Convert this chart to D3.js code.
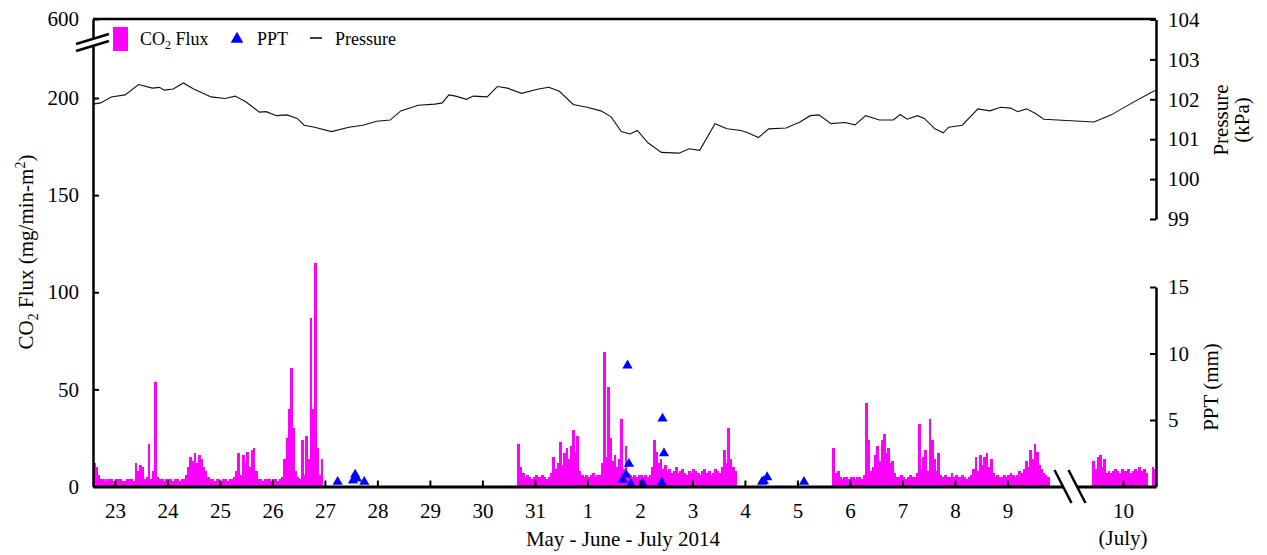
<!DOCTYPE html>
<html>
<head>
<meta charset="utf-8">
<script src="https://cdn.jsdelivr.net/npm/d3@7"></script>
<style>
body { margin: 0; background: #fff; }
svg text { font-family: "Liberation Serif", "Times New Roman", serif; fill: #000; }
</style>
</head>
<body>
<svg id="chart" width="1267" height="555"></svg>
<script>
// ---- data (times are 2014, "MM-DD HH:MM") ----
const dayTicks = ["05-23","05-24","05-25","05-26","05-27","05-28","05-29","05-30","05-31",
                  "06-01","06-02","06-03","06-04","06-05","06-06","06-07","06-08","06-09","07-10"]
const fluxTicks = [0, 50, 100, 150, 200, 600]
const pressTicks = [99, 100, 101, 102, 103, 104]
const pptTicks = [5, 10, 15]

// hourly CO2 flux, one array per measuring period
const fluxStart1 = "05-22 14:00"
const fluxSeg1 = [12,10,6,4,4,3,4,4,4,3,4,4,4,3,3,4,4,4,3,12,8,11,10,4,5,22,4,8,54,5,
                  4,4,3,4,4,4,3,4,4,3,4,4,6,10,15,13,17,12,16,14,10,8,5,4,4,3,4,4,3,4,
                  4,3,4,4,5,8,17,6,16,12,18,10,19,20,8,4,4,3,4,4,4,3,4,4,3,4,5,14,25,40,
                  61,30,8,5,4,24,6,26,14,87,40,115,20,6,14]
const fluxStart2 = "05-30 16:00"
const fluxSeg2 = [22,10,7,5,6,5,4,5,6,5,5,6,5,4,5,7,15,9,12,23,11,17,20,14,21,29,18,26,8,6,
                  5,6,5,6,7,5,6,6,12,69,15,51,25,13,16,10,14,35,9,21,7,6,5,6,5,6,6,5,6,5,
                  6,10,24,18,12,14,9,11,8,9,7,8,10,7,8,9,7,6,8,7,9,8,7,6,8,9,7,8,6,7,
                  9,8,7,10,19,12,30,14,10,8]
const fluxStart3 = "06-05 16:00"
const fluxSeg3 = [20,7,8,5,4,5,5,4,5,5,4,5,5,4,6,43,24,8,10,16,21,13,24,27,17,20,12,13,7,5,
                  5,6,5,4,5,6,5,5,7,32,9,15,19,8,35,24,14,8,17,6,5,6,5,5,7,5,6,5,5,6,
                  5,4,5,6,9,15,8,16,11,15,17,10,14,7,5,6,5,5,6,5,6,7,6,5,6,8,7,9,13,10,
                  19,14,22,18,11,9,7,6,5]
const fluxStart4 = "07-09 10:00"
const fluxSeg4 = [13,9,15,16,10,14,7,8,7,8,9,8,7,9,8,8,9,7,8,9,8,10,8,9,7,null,null,10,9]

// barometric pressure (kPa)
const pressTimes = ["05-22 14:00","05-22 17:30","05-22 22:20","05-23 04:40","05-23 10:50","05-23 17:10",
  "05-23 20:20","05-23 22:40","05-24 02:40","05-24 07:20","05-24 12:00","05-24 20:00","05-25 02:20",
  "05-25 07:00","05-25 11:50","05-25 18:00","05-25 21:10","05-26 01:50","05-26 06:40","05-26 11:20",
  "05-26 14:30","05-26 19:20","05-27 03:00","05-27 11:00","05-27 17:20","05-27 23:40","05-28 05:50",
  "05-28 10:40","05-28 18:40","05-29 02:20","05-29 05:40","05-29 08:40","05-29 11:50","05-29 16:40",
  "05-29 19:50","05-30 02:10","05-30 06:50","05-30 11:30","05-30 17:50","05-31 01:40","05-31 06:20",
  "05-31 11:10","05-31 17:30","05-31 23:50","06-01 06:10","06-01 10:50","06-01 15:30","06-01 19:30",
  "06-01 22:50","06-02 03:40","06-02 09:50","06-02 17:50","06-02 22:30","06-03 03:20","06-03 10:20",
  "06-03 15:50","06-03 22:10","06-04 01:20","06-04 06:10","06-04 10:50","06-04 18:50","06-05 01:10",
  "06-05 05:50","06-05 09:50","06-05 15:20","06-05 21:40","06-06 02:20","06-06 07:10","06-06 13:30",
  "06-06 19:50","06-06 23:00","06-07 02:10","06-07 06:50","06-07 10:00","06-07 14:50","06-07 18:40",
  "06-07 21:10","06-08 03:20","06-08 10:30","06-08 16:00","06-08 20:50","06-09 01:30","06-09 04:40",
  "06-09 08:40","06-09 12:40","06-09 16:40","07-09 10:50","07-09 18:40","07-10 04:10","07-10 12:10",
  "07-10 15:00"]
const pressValues = [101.88,101.91,102.06,102.11,102.37,102.28,102.30,102.23,102.26,102.41,102.26,102.06,
  102.02,102.08,101.94,101.68,101.69,101.59,101.61,101.52,101.35,101.30,101.19,101.30,101.35,101.45,
  101.48,101.71,101.85,101.88,101.91,102.11,102.08,102.00,102.08,102.06,102.32,102.28,102.15,102.26,
  102.30,102.20,101.87,101.80,101.71,101.56,101.19,101.13,101.22,100.91,100.67,100.65,100.76,100.72,
  101.39,101.26,101.22,101.16,101.04,101.26,101.28,101.43,101.59,101.61,101.39,101.42,101.36,101.59,
  101.48,101.48,101.62,101.50,101.59,101.52,101.26,101.16,101.30,101.35,101.76,101.71,101.80,101.78,
  101.69,101.76,101.65,101.50,101.43,101.61,101.91,102.15,102.23]

// precipitation events (mm)
const pptTimes = ["05-27 05:50","05-27 12:50","05-27 13:50","05-27 14:40","05-27 18:00",
  "06-01 16:10","06-01 17:40","06-01 18:20","06-01 19:00","06-01 19:50","06-02 01:20",
  "06-02 10:00","06-02 10:20","06-02 11:00","06-04 07:50","06-04 08:40","06-04 10:10","06-05 03:00"]
const pptValues = [0.35,0.45,0.9,0.6,0.35,0.5,0.9,9.1,1.7,0.2,0.2,0.3,5.1,2.5,0.35,0.4,0.7,0.35]

// ---- drawing ----
const parse = s => d3.timeParse("%Y-%m-%d %H:%M")("2014-" + (s.length === 5 ? s + " 00:00" : s))

const svg = d3.select("#chart")
svg.append("rect").attr("width", 1267).attr("height", 555).attr("fill", "#fff")

const plotLeft = 93, plotRight = 1156, plotTop = 19, plotBottom = 486.5
const breakA = parse("06-09 19:00"), breakB = parse("07-09 09:00")

// broken time axis: two pieces glued by a short gap
const x = d3.scaleTime()
    .domain([parse("05-22 14:00"), breakA, breakB, parse("07-10 15:00")])
    .range([plotLeft, 1049, 1090, plotRight])
const yF = d3.scaleLinear().domain([0, 200, 600]).range([plotBottom, 98, plotTop])
const yP = d3.scaleLinear().domain([99, 104]).range([219, 19.5])
const yR = d3.scaleLinear().domain([0, 15]).range([plotBottom, 287])

// flux bars
let flux = []
;[[fluxStart1, fluxSeg1], [fluxStart2, fluxSeg2], [fluxStart3, fluxSeg3], [fluxStart4, fluxSeg4]]
    .forEach(([s, vals]) => {
        const t0 = parse(s)
        vals.forEach((v, i) => { if (v != null) flux.push({ t: d3.timeHour.offset(t0, i), v: v }) })
    })

svg.append("g")
    .attr("shape-rendering", "crispEdges")
    .selectAll("rect")
    .data(flux)
    .enter().append("rect")
    .attr("x", d => x(d.t))
    .attr("width", d => x(d3.timeHour.offset(d.t, 1)) - x(d.t) + 0.6)
    .attr("y", d => yF(d.v))
    .attr("height", d => yF(0) - yF(d.v))
    .attr("fill", "#ff00ff")

// pressure line
const press = pressTimes.map((t, i) => ({ t: parse(t), v: pressValues[i] }))
svg.append("path")
    .datum(press)
    .attr("fill", "none")
    .attr("stroke", "#111")
    .attr("stroke-width", 1.1)
    .attr("d", d3.line().x(d => x(d.t)).y(d => yP(d.v)))

// precipitation triangles
const ppt = pptTimes.map((t, i) => ({ t: parse(t), v: pptValues[i] }))
svg.append("g").selectAll("path")
    .data(ppt)
    .enter().append("path")
    .attr("d", d3.symbol(d3.symbolTriangle).size(45))
    .attr("transform", d => "translate(" + x(d.t) + "," + yR(d.v) + ")")
    .attr("fill", "#0000ff")

// axes
function styleAxis(g, w) {
    g.attr("font-family", null).attr("font-size", 21)
    g.select(".domain").attr("stroke-width", w)
    g.selectAll(".tick line").attr("stroke-width", 2)
}

svg.append("g")
    .attr("transform", "translate(" + plotLeft + ",0)")
    .call(d3.axisLeft(yF).tickValues(fluxTicks).tickSizeInner(-6).tickSizeOuter(0).tickPadding(14))
    .call(g => styleAxis(g, 2.5))

svg.append("g")
    .attr("transform", "translate(" + plotRight + ",0)")
    .call(d3.axisRight(yP).tickValues(pressTicks).tickFormat(d3.format("d"))
        .tickSizeInner(-6).tickSizeOuter(0).tickPadding(12))
    .call(g => styleAxis(g, 2.5))

svg.append("g")
    .attr("transform", "translate(" + plotRight + ",0)")
    .call(d3.axisRight(yR).tickValues(pptTicks).tickSizeInner(-6).tickSizeOuter(0).tickPadding(12))
    .call(g => styleAxis(g, 2.5))

svg.append("g")
    .attr("transform", "translate(0," + plotBottom + ")")
    .call(d3.axisBottom(x).tickValues(dayTicks.map(parse)).tickFormat(d => d.getDate())
        .tickSizeInner(-6).tickSizeOuter(0).tickPadding(17))
    .call(g => styleAxis(g, 3))

svg.append("line")
    .attr("x1", plotLeft).attr("x2", plotRight).attr("y1", plotTop).attr("y2", plotTop)
    .attr("stroke", "#000").attr("stroke-width", 2.5)

// break marks
const bx = (x(breakA) + x(breakB)) / 2
svg.append("polygon")
    .attr("points", [[bx - 15, 470], [bx - 1, 470], [bx + 16, 503], [bx + 2, 503]].join(" "))
    .attr("fill", "#fff")
;[[bx - 15, bx + 2], [bx - 1, bx + 16]].forEach(([a, b]) => {
    svg.append("line").attr("x1", a).attr("y1", 470).attr("x2", b).attr("y2", 503)
        .attr("stroke", "#000").attr("stroke-width", 2.5)
})
svg.append("polygon")
    .attr("points", [[76, 44], [109, 34], [109, 41], [76, 51]].join(" "))
    .attr("fill", "#fff")
;[[44, 34], [51, 41]].forEach(([a, b]) => {
    svg.append("line").attr("x1", 76).attr("y1", a).attr("x2", 109).attr("y2", b)
        .attr("stroke", "#000").attr("stroke-width", 2.5)
})

// axis titles
svg.append("text").attr("x", x(parse("07-10"))).attr("y", 545)
    .attr("text-anchor", "middle").attr("font-size", 21).text("(July)")
svg.append("text").attr("x", 623).attr("y", 546)
    .attr("text-anchor", "middle").attr("font-size", 21).text("May - June - July 2014")

const yl = svg.append("text")
    .attr("transform", "translate(26,252) rotate(-90)")
    .attr("text-anchor", "middle").attr("dy", "0.35em").attr("font-size", 21)
yl.append("tspan").text("CO")
yl.append("tspan").attr("font-size", 14).attr("dy", 5).text("2")
yl.append("tspan").attr("dy", -5).text(" Flux (mg/min-m")
yl.append("tspan").attr("font-size", 14).attr("dy", -8).text("2")
yl.append("tspan").attr("dy", 8).text(")")

svg.append("text").attr("transform", "translate(1221,120) rotate(-90)")
    .attr("text-anchor", "middle").attr("dy", "0.35em").attr("font-size", 21).text("Pressure")
svg.append("text").attr("transform", "translate(1242,120) rotate(-90)")
    .attr("text-anchor", "middle").attr("dy", "0.35em").attr("font-size", 21).text("(kPa)")
svg.append("text").attr("transform", "translate(1211,387) rotate(-90)")
    .attr("text-anchor", "middle").attr("dy", "0.35em").attr("font-size", 21).text("PPT (mm)")

// legend
svg.append("rect").attr("x", 113).attr("y", 27).attr("width", 15).attr("height", 24).attr("fill", "#ff00ff")
const lt = svg.append("text").attr("x", 140).attr("y", 45).attr("font-size", 18)
lt.append("tspan").text("CO")
lt.append("tspan").attr("font-size", 12).attr("dy", 4).text("2")
lt.append("tspan").attr("dy", -4).text(" Flux")
svg.append("path").attr("d", d3.symbol(d3.symbolTriangle).size(70))
    .attr("transform", "translate(237,39)").attr("fill", "#0000ff")
svg.append("text").attr("x", 257).attr("y", 45).attr("font-size", 18).text("PPT")
svg.append("line").attr("x1", 310).attr("x2", 322).attr("y1", 38).attr("y2", 38)
    .attr("stroke", "#000").attr("stroke-width", 1.5)
svg.append("text").attr("x", 335).attr("y", 45).attr("font-size", 18).text("Pressure")
</script>
</body>
</html>
